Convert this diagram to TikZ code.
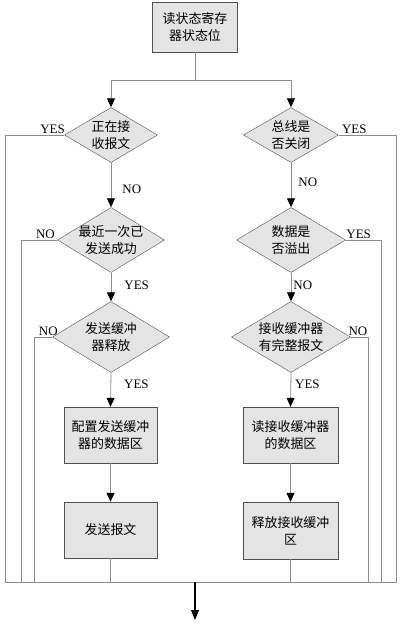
\documentclass[tikz,border=0pt]{standalone}
\usepackage{fontspec}
\setmainfont{Liberation Serif}
\newfontfamily\cjk{Noto Sans CJK SC}
\usetikzlibrary{shapes.geometric,arrows.meta}
\definecolor{boxfill}{HTML}{E4E4E4}
\definecolor{boxline}{HTML}{505050}
\definecolor{wire}{HTML}{8C8C8C}
\tikzset{
  box/.style={rectangle, draw=boxline, fill=boxfill, minimum width=93bp, minimum height=56bp,
    inner sep=0pt, align=center, font=\cjk\fontsize{13}{17}\selectfont},
  dia/.style={diamond, draw=boxline, fill=boxfill, inner sep=0pt},
  txt/.style={align=center, inner sep=0pt, font=\cjk\fontsize{13}{17}\selectfont},
  ln/.style={draw=wire, line width=0.8bp},
  arr/.style={ln, -{Triangle[length=9bp, width=8bp, color=black]}},
  lab/.style={font=\fontsize{13}{15}\selectfont, inner sep=1bp},
}
\begin{document}
\begin{tikzpicture}[x=1bp, y=-1bp]
  \useasboundingbox (0,0) rectangle (400,625);
  \node[box, minimum width=85bp, minimum height=50bp] (s0) at (195,27) {读状态寄存\\器状态位};
  % send side
  \node[dia, minimum width=93bp, minimum height=55bp, label={[txt]center:正在接\\收报文}] (l1) at (111,135) {};
  \node[dia, minimum width=107bp, minimum height=65bp, label={[txt]center:最近一次已\\发送成功}] (l2) at (111,240) {};
  \node[dia, minimum width=117bp, minimum height=71bp, label={[txt]center:发送缓冲\\器释放}] (l3) at (111,337) {};
  \node[box] (l4) at (110.5,435) {配置发送缓冲\\器的数据区};
  \node[box] (l5) at (110.5,530) {发送报文};
  % receive side
  \node[dia, minimum width=95bp, minimum height=55bp, label={[txt]center:总线是\\否关闭}] (r1) at (291,135) {};
  \node[dia, minimum width=109bp, minimum height=65bp, label={[txt]center:数据是\\否溢出}] (r2) at (291,240) {};
  \node[dia, minimum width=119bp, minimum height=71bp, label={[txt]center:接收缓冲器\\有完整报文}] (r3) at (291,337) {};
  \node[box, minimum width=95bp] (r4) at (290.5,435) {读接收缓冲器\\的数据区};
  \node[box, minimum width=95bp, minimum height=57bp] (r5) at (290.5,530.5) {释放接收缓冲\\区};
  \coordinate (m) at (195,582);
  \coordinate (e) at (195,620);
  % top split
  \draw[arr] (s0.south) -- ++(0,28) -| (l1.north);
  \draw[arr] (s0.south) -- ++(0,28) -| (r1.north);
  % down the chains
  \draw[arr] (l1.south) -- node[lab, right=10bp, pos=0.6] {NO} (l2.north);
  \draw[arr] (l2.south) -- node[lab, right=12bp, pos=0.43] {YES} (l3.north);
  \draw[arr] (l3.south) -- node[lab, right=12bp, pos=0.35] {YES} (l4.north);
  \draw[arr] (l4.south) -- (l5.north);
  \draw[arr] (r1.south) -- node[lab, right=6bp, pos=0.45] {NO} (r2.north);
  \draw[arr] (r2.south) -- node[lab, right=1bp, pos=0.43] {NO} (r3.north);
  \draw[arr] (r3.south) -- node[lab, right=3bp, pos=0.35] {YES} (r4.north);
  \draw[arr] (r4.south) -- (r5.north);
  % side exits to the merge line
  \draw[ln] (l1.west) -- node[lab, above, pos=0.2] {YES} ++(-59,0) |- (m);
  \draw[ln] (l2.west) -- node[lab, above, pos=0.33] {NO} ++(-36,0) |- (m);
  \draw[ln] (l3.west) -- node[lab, above, pos=0.22] {NO} ++(-18,0) |- (m);
  \draw[ln] (l5.south) |- (m);
  \draw[ln] (r1.east) -- node[lab, above, pos=0.27] {YES} ++(58,0) |- (m);
  \draw[ln] (r2.east) -- node[lab, above, pos=0.36] {YES} ++(36,0) |- (m);
  \draw[ln] (r3.east) -- node[lab, above, pos=0.4] {NO} ++(18,0) |- (m);
  \draw[ln] (r5.south) |- (m);
  \draw[line width=1.2bp, -{Triangle[length=10bp, width=8bp]}] (m) -- (e);
\end{tikzpicture}
\end{document}
